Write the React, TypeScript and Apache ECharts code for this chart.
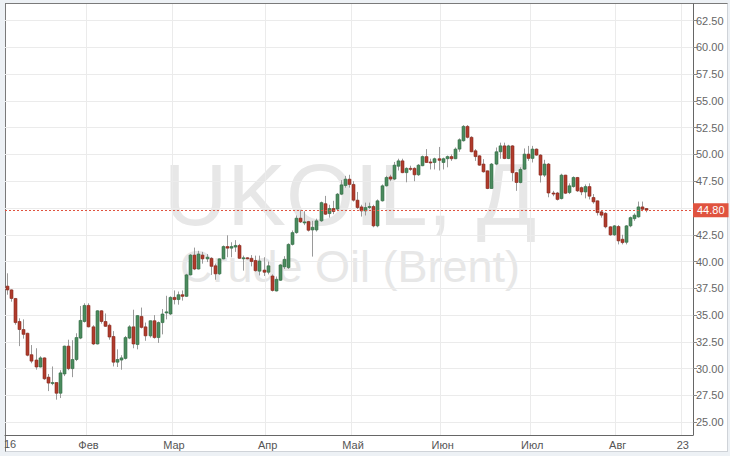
import React, { useEffect, useRef } from 'react';
import * as echarts from 'echarts';

// Daily UKOIL (Brent) candles, 2016-01-04 .. 2016-08-10
const opens = [
  37.7, 37.35, 36.55, 34.4, 33.65, 33.3, 31.3, 30.8, 30.15, 31.0, 29.2, 28.65, 28.7, 27.7, 29.5, 32.1, 30.0, 30.85, 32.85, 34.4,
  35.9, 33.9, 32.3, 35.4, 34.4, 34.05, 33.0, 30.6, 30.8, 30.95, 32.85, 33.9, 32.25, 34.875, 33.9, 33.06, 34.47, 32.9, 34.3, 35.2,
  35.1, 36.65, 36.45, 36.9, 36.75, 38.75, 40.6, 39.3, 40.6, 40.25, 40.3, 39.6, 38.85, 40.25, 41.4, 41.25, 41.35, 41.5, 40.3, 40.35,
  40.3, 40.1, 39.1, 39.2, 39.0, 38.65, 37.25, 38.25, 39.5, 39.43, 41.6, 42.7, 44.05, 43.6, 43.73, 42.95, 42.95, 43.8, 45.4, 44.48,
  44.95, 44.9, 46.29, 47.1, 47.69, 47.2, 45.73, 45.1, 44.73, 45.04, 45.14, 43.33, 45.67, 47.07, 47.9, 47.7, 48.9, 49.4, 48.3, 48.7,
  48.7, 48.1, 48.95, 49.8, 49.3, 49.25, 49.6, 49.25, 49.6, 49.8, 49.6, 50.5, 51.28, 52.62, 51.6, 50.34, 49.87, 49.1, 48.47, 46.82,
  49.1, 50.25, 50.8, 49.62, 50.8, 48.3, 47.38, 48.63, 50.03, 49.63, 50.5, 49.94, 48.07, 49.1, 46.4, 46.4, 45.88, 48.07, 46.44, 47.0,
  47.85, 46.9, 46.5, 47.0, 45.98, 45.67, 44.64, 44.5, 43.24, 42.49, 43.27, 42.08, 41.8, 43.33, 44.0, 44.17, 45.1, 44.95,
];
const highs = [
  38.9, 37.4, 36.6, 34.7, 34.6, 33.35, 32.2, 31.9, 31.15, 31.05, 29.5, 30.2, 28.7, 29.85, 32.15, 32.7, 32.65, 33.3, 35.85, 36.1,
  36.1, 34.05, 35.45, 35.45, 35.15, 34.2, 33.5, 31.8, 31.25, 33.05, 34.05, 35.5, 35.0, 35.7, 34.3, 34.5, 35.0, 34.4, 35.56, 36.8,
  36.75, 37.3, 37.2, 37.3, 38.85, 40.7, 41.3, 41.0, 40.9, 40.7, 40.4, 39.8, 40.3, 41.5, 42.45, 41.8, 42.0, 41.65, 40.55, 40.4,
  40.6, 40.55, 40.55, 40.4, 40.0, 38.8, 38.6, 39.75, 40.5, 41.7, 42.9, 44.3, 44.8, 44.7, 43.8, 43.8, 44.0, 45.6, 46.13, 45.3,
  45.67, 46.4, 47.6, 48.0, 48.1, 47.5, 46.5, 45.3, 45.5, 45.5, 45.3, 45.8, 47.2, 48.0, 48.1, 49.3, 49.6, 49.6, 48.8, 48.95,
  48.8, 49.1, 49.9, 50.5, 49.6, 49.7, 50.7, 49.7, 49.9, 50.0, 50.65, 51.5, 52.74, 52.74, 51.7, 50.5, 49.93, 49.56, 48.5, 49.2,
  50.65, 51.1, 51.1, 50.9, 50.87, 48.38, 48.8, 50.56, 50.8, 50.8, 50.56, 50.03, 49.5, 49.2, 46.6, 46.5, 48.2, 48.1, 47.3, 47.95,
  47.9, 47.0, 47.2, 47.3, 46.3, 45.7, 44.8, 44.6, 43.3, 43.4, 43.4, 42.5, 43.4, 44.2, 44.5, 45.6, 45.6, 45.0,
];
const lows = [
  36.9, 36.25, 34.1, 32.1, 32.8, 31.15, 30.5, 29.9, 30.1, 28.95, 27.9, 28.45, 27.1, 27.25, 29.3, 29.85, 29.2, 30.7, 32.75, 34.3,
  33.85, 32.2, 32.25, 34.2, 33.9, 32.7, 30.2, 30.15, 29.9, 30.85, 32.75, 31.9, 31.8, 33.75, 32.6, 32.9, 32.8, 32.4, 33.2, 34.6,
  35.0, 36.0, 35.97, 36.35, 36.7, 38.7, 39.2, 39.25, 39.8, 39.95, 38.75, 38.3, 38.75, 40.2, 40.4, 40.4, 40.9, 40.25, 39.15, 40.2,
  39.55, 39.05, 38.7, 38.65, 38.8, 37.2, 37.2, 38.2, 39.3, 39.3, 41.5, 42.6, 43.6, 43.4, 42.8, 40.46, 42.8, 43.7, 44.35, 44.1,
  44.42, 44.8, 46.2, 46.9, 46.9, 45.6, 44.9, 44.2, 44.3, 44.9, 43.2, 43.2, 45.6, 47.0, 47.5, 47.6, 48.5, 48.25, 47.4, 48.47,
  47.5, 48.0, 48.9, 49.2, 48.6, 48.6, 48.5, 48.6, 48.8, 49.4, 49.56, 50.25, 51.2, 51.5, 50.2, 49.4, 48.94, 48.3, 46.76, 46.8,
  49.0, 49.6, 49.56, 49.56, 47.5, 46.6, 47.3, 48.56, 49.4, 49.25, 49.87, 47.38, 47.9, 46.0, 46.1, 45.7, 45.8, 46.3, 46.3, 46.9,
  46.5, 46.2, 45.9, 45.8, 45.4, 44.3, 44.1, 43.1, 42.4, 42.4, 41.6, 41.6, 41.6, 43.2, 43.8, 44.1, 44.7, 44.6,
];
const closes = [
  37.35, 36.55, 34.3, 33.65, 33.2, 31.25, 30.7, 30.15, 31.0, 29.05, 28.65, 28.7, 27.7, 29.6, 32.1, 30.0, 30.85, 32.9, 34.5, 35.9,
  33.9, 32.3, 35.4, 34.4, 33.95, 32.95, 30.6, 30.85, 31.0, 32.9, 33.9, 32.3, 34.95, 33.85, 33.06, 34.47, 32.9, 34.3, 35.1, 35.3,
  36.65, 36.45, 36.9, 36.75, 38.75, 40.6, 39.3, 40.7, 40.25, 40.4, 39.55, 38.85, 40.25, 41.4, 41.25, 41.4, 41.5, 40.3, 40.35, 40.3,
  40.0, 39.15, 40.05, 39.0, 39.6, 37.3, 38.34, 39.68, 40.2, 41.6, 42.7, 44.05, 43.7, 43.7, 42.92, 43.2, 43.8, 45.5, 44.42, 44.95,
  44.67, 46.29, 47.16, 47.69, 47.2, 45.73, 45.04, 44.73, 45.04, 45.14, 43.33, 45.67, 47.07, 47.85, 47.7, 49.0, 49.4, 48.3, 48.7, 48.63,
  48.1, 49.0, 49.8, 49.25, 49.25, 49.6, 49.45, 49.6, 49.8, 49.6, 50.5, 51.37, 52.62, 51.6, 50.25, 49.8, 49.0, 48.38, 46.82, 49.1,
  50.25, 50.8, 49.62, 50.8, 48.3, 47.38, 48.6, 50.03, 49.63, 50.5, 49.94, 48.07, 49.1, 46.4, 46.3, 45.8, 48.07, 46.38, 47.07, 47.85,
  46.6, 46.5, 47.0, 46.1, 45.57, 44.57, 44.33, 43.24, 42.49, 43.33, 41.93, 41.77, 43.33, 44.1, 44.33, 45.1, 44.88, 44.8,
];

const lastPrice = 44.8;
const yTicks = [25, 27.5, 30, 32.5, 35, 37.5, 40, 42.5, 45, 47.5, 50, 52.5, 55, 57.5, 60, 62.5];
// 45.00 is hidden under the last-price tag in the reference
const yTickLabels = [25, 27.5, 30, 32.5, 35, 37.5, 40, 42.5, 47.5, 50, 52.5, 55, 57.5, 60, 62.5];
const tickDates = ['2016-02-01', '2016-03-01', '2016-04-01', '2016-05-02', '2016-06-01', '2016-07-01', '2016-08-01', '2016-08-23'];
const tickLabels = ['Фев', 'Мар', 'Апр', 'Май', 'Июн', 'Июл', 'Авг', '23'];
const firstDay = '2016-01-04';
const dayCount = 169;

function tradingDays(start: string, n: number): string[] {
  const out: string[] = [];
  const d = new Date(start + 'T00:00:00Z');
  while (out.length < n) {
    const wd = d.getUTCDay();
    if (wd !== 0 && wd !== 6) out.push(d.toISOString().slice(0, 10));
    d.setUTCDate(d.getUTCDate() + 1);
  }
  return out;
}

const FONT = '"Liberation Sans", Arial, sans-serif';

export default function App() {
  const ref = useRef<HTMLDivElement>(null);
  useEffect(() => {
    if (!ref.current) return;
    const chart = echarts.init(ref.current, null, { renderer: 'svg' });
    const days = tradingDays(firstDay, dayCount);
    const labelMap: Record<string, string> = {};
    tickDates.forEach((d, i) => (labelMap[d] = tickLabels[i]));
    const isTick = (i: number) => labelMap[days[i]] !== undefined;
    const rows = opens.map((o, i) => [i, o, closes[i], lows[i], highs[i]]);

    chart.setOption({
      animation: false,
      grid: { left: 5, right: 37, top: 4, bottom: 21 },
      graphic: [
        {
          type: 'text', x: 350, y: 194, z: -1,
          style: { text: 'UKOIL, Д', font: '88px "Liberation Sans", Arial', fill: '#e7e7e7', textAlign: 'center', textVerticalAlign: 'middle' },
        },
        {
          type: 'text', x: 350, y: 266, z: -1,
          style: { text: 'Crude Oil (Brent)', font: '45px "Liberation Sans", Arial', fill: '#e7e7e7', textAlign: 'center', textVerticalAlign: 'middle' },
        },
        {
          type: 'text', x: 10, y: 444,
          style: { text: '16', font: '11px "Liberation Sans", Arial', fill: '#555', textAlign: 'center', textVerticalAlign: 'middle' },
        },
      ],
      xAxis: {
        type: 'category',
        data: days,
        boundaryGap: true,
        axisLine: { lineStyle: { color: '#666' } },
        axisTick: { alignWithLabel: true, interval: (i: number) => isTick(i), length: 4, lineStyle: { color: '#666' } },
        axisLabel: {
          interval: (i: number) => isTick(i),
          formatter: (v: string) => labelMap[v] || '',
          color: '#555', fontSize: 11, margin: 4, fontFamily: FONT,
        },
        splitLine: { show: true, interval: (i: number) => isTick(i), lineStyle: { color: '#ebebeb' } },
      },
      yAxis: {
        type: 'value',
        position: 'right',
        min: 23.8,
        max: 64.05,
        axisLine: { show: true, lineStyle: { color: '#666' } },
        axisTick: { show: true, customValues: yTicks, length: 4, lineStyle: { color: '#888' } },
        axisLabel: { customValues: yTickLabels, formatter: (v: number) => v.toFixed(2), color: '#666', fontSize: 11, margin: 3, fontFamily: FONT },
        splitLine: { show: true, lineStyle: { color: '#ebebeb' } },
      },
      series: [
        {
          type: 'custom',
          data: rows,
          encode: { x: 0, y: [1, 2, 3, 4] },
          clip: true,
          renderItem: (params: any, api: any) => {
            const idx = api.value(0);
            const o = api.value(1), c = api.value(2), l = api.value(3), h = api.value(4);
            const pO = api.coord([idx, o]);
            const pC = api.coord([idx, c]);
            const pL = api.coord([idx, l]);
            const pH = api.coord([idx, h]);
            const x = Math.round(pO[0]);
            const up = c >= o;
            const top = Math.min(pO[1], pC[1]);
            const hgt = Math.max(1, Math.abs(pO[1] - pC[1]));
            return {
              type: 'group',
              children: [
                { type: 'line', shape: { x1: x + 0.5, y1: pH[1], x2: x + 0.5, y2: pL[1] }, style: { stroke: '#9a9a9a', lineWidth: 1 } },
                {
                  type: 'rect',
                  shape: { x: x - 1, y: top, width: 3, height: hgt },
                  style: { fill: up ? '#4b8b5e' : '#b03b2c', stroke: up ? '#336b45' : '#872a1f', lineWidth: 0.6 },
                },
              ],
            };
          },
          markLine: {
            silent: true,
            symbol: ['none', 'none'],
            data: [{ yAxis: lastPrice }],
            lineStyle: { color: '#e0533f', type: [2, 2], width: 1 },
            label: {
              position: 'end',
              formatter: lastPrice.toFixed(2),
              color: '#fff',
              backgroundColor: '#e0533f',
              padding: [2, 4, 1, 4],
              fontSize: 11,
              fontFamily: FONT,
              distance: 0,
            },
          },
        },
      ],
    });
    return () => chart.dispose();
  }, []);

  return (
    <div style={{ position: 'fixed', left: 0, top: 0, width: 730, height: 456, background: '#edf1f5' }}>
      <div
        style={{
          position: 'absolute', left: 5, top: 3, width: 721, height: 447, background: '#fff',
          borderLeft: '1px solid #7a7a7a', borderTop: '1px solid #7a7a7a',
          borderRight: '1px solid #cfd3d8', borderBottom: '1px solid #cfd3d8',
        }}
      />
      <div ref={ref} style={{ position: 'absolute', left: 0, top: 0, width: 730, height: 456 }} />
    </div>
  );
}
